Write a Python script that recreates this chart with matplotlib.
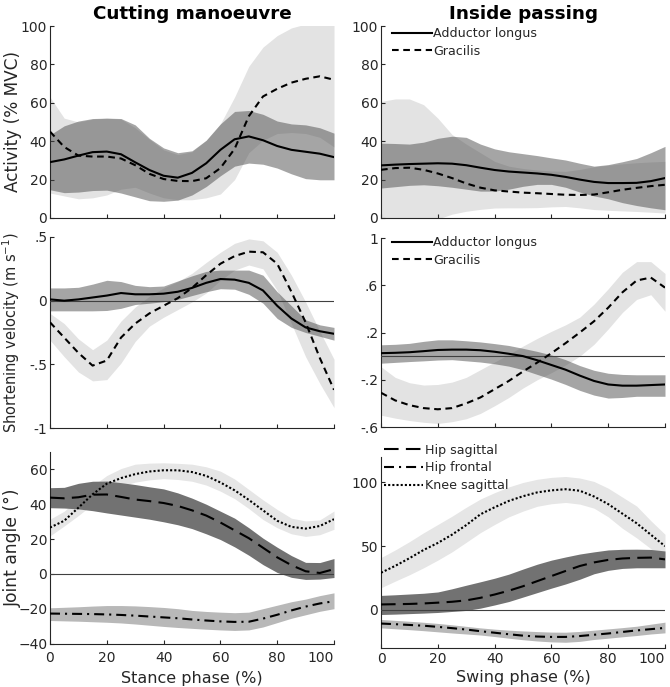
import numpy as np
import matplotlib
matplotlib.use("Agg")
import matplotlib.pyplot as plt

plt.rcParams['font.family'] = ['DejaVu Sans']
plt.rcParams['mathtext.fontset'] = 'dejavusans'

# ---------------- data ----------------
phase = [0, 5, 10, 15, 20, 25, 30, 35, 40, 45, 50, 55, 60, 65, 70, 75, 80, 85, 90, 95, 100]

# Cutting manoeuvre - activity (% MVC)
cut_act_al = [29.1, 30.5, 32.5, 34.3, 34.6, 33.2, 29, 25, 22, 21, 23.5, 28.5, 35.5, 41, 42.5, 40.5, 37.5, 35.5, 34.5, 33.5, 31.7]
cut_act_al_hi = [43.3, 48, 50.5, 51.8, 52, 51.8, 48.5, 41.5, 36.5, 34, 35, 40.5, 49, 55.5, 56, 54, 50.5, 49, 48.5, 47, 44.2]
cut_act_al_lo = [14.7, 13.2, 13.5, 14.3, 14.5, 13, 11, 9, 8.7, 9.3, 12, 16.4, 22, 27, 28.6, 28, 26, 23, 20.5, 19.9, 19.9]
cut_act_gr = [45, 37, 32.5, 32, 32, 31, 27.5, 23, 20.3, 19.3, 19.2, 20.7, 26, 36, 53, 63.3, 67.3, 70.5, 72.5, 73.8, 72]
cut_act_gr_hi = [63, 52, 50, 51.5, 52, 51.5, 47, 41, 35.5, 33, 34.5, 40.5, 49, 63, 79, 89, 95, 99, 101, 103, 104]
cut_act_gr_lo = [13, 11.5, 10, 10.5, 12, 15, 16, 13, 10.5, 9.5, 9.5, 10.5, 12.5, 20, 34, 40.5, 44, 44.5, 44, 42, 37]

# Inside passing - activity (% MVC)
pas_act_al = [27.4, 27.8, 28.1, 28.3, 28.5, 28.3, 27.5, 26.2, 25, 24.2, 23.7, 23.2, 22.5, 21.4, 20, 18.8, 18.2, 18.2, 18.3, 19.2, 20.8]
pas_act_al_hi = [39, 38.8, 38.5, 39.5, 41.5, 42.6, 42, 38.5, 36, 34.5, 33.5, 32.5, 31.3, 30.2, 28.5, 27, 27.8, 29.3, 31, 34, 37.3]
pas_act_al_lo = [15.6, 16.3, 17, 17.3, 16.8, 16, 15, 14, 14, 15, 16.5, 17.5, 17.5, 16, 13.5, 11.5, 10, 8, 6.5, 5.3, 4.3]
pas_act_gr = [25.1, 26, 26.2, 25.1, 23.2, 20.8, 18, 15.8, 14.4, 13.8, 13.2, 12.9, 12.5, 12.1, 12, 12.2, 13.4, 14.7, 15.7, 16.6, 17.3]
pas_act_gr_hi = [60.7, 62, 62, 59, 52, 43.5, 38.5, 34, 29.5, 27, 25.8, 25, 24.5, 24.3, 25.3, 26.7, 27.5, 28.2, 28.8, 29.2, 29.5]
pas_act_gr_lo = [-5, -5, -4, -3, -0.5, 2, 3.5, 4.5, 5.2, 5.3, 5.3, 5.4, 5.8, 6, 5.3, 4.4, 4, 3.7, 3.4, 3, 2.6]

# Cutting manoeuvre - shortening velocity (m/s)
cut_vel_al = [0.01, 0.0, 0.01, 0.025, 0.04, 0.06, 0.05, 0.05, 0.055, 0.07, 0.1, 0.14, 0.17, 0.165, 0.14, 0.08, -0.04, -0.14, -0.21, -0.24, -0.26]
cut_vel_al_hi = [0.1, 0.1, 0.105, 0.13, 0.16, 0.15, 0.12, 0.11, 0.115, 0.155, 0.195, 0.23, 0.24, 0.24, 0.24, 0.2, 0.07, -0.04, -0.15, -0.19, -0.21]
cut_vel_al_lo = [-0.08, -0.08, -0.08, -0.08, -0.077, -0.06, -0.03, -0.02, -0.008, 0.01, 0.04, 0.07, 0.094, 0.09, 0.05, -0.02, -0.14, -0.21, -0.25, -0.28, -0.31]
cut_vel_gr = [-0.17, -0.29, -0.41, -0.51, -0.47, -0.29, -0.18, -0.1, -0.04, 0.02, 0.1, 0.2, 0.29, 0.35, 0.385, 0.38, 0.29, 0.07, -0.17, -0.45, -0.7]
cut_vel_gr_hi = [-0.1, -0.18, -0.3, -0.385, -0.31, -0.16, -0.05, 0.035, 0.1, 0.15, 0.215, 0.3, 0.38, 0.45, 0.485, 0.47, 0.38, 0.2, -0.01, -0.24, -0.46]
cut_vel_gr_lo = [-0.31, -0.44, -0.56, -0.63, -0.62, -0.49, -0.32, -0.2, -0.13, -0.07, -0.01, 0.06, 0.16, 0.24, 0.28, 0.25, 0.08, -0.18, -0.44, -0.65, -0.84]

# Inside passing - shortening velocity (m/s)
pas_vel_al = [0.025, 0.028, 0.033, 0.042, 0.052, 0.055, 0.055, 0.05, 0.037, 0.02, 0.0, -0.035, -0.075, -0.115, -0.165, -0.21, -0.24, -0.25, -0.25, -0.245, -0.24]
pas_vel_al_hi = [0.096, 0.1, 0.108, 0.125, 0.138, 0.138, 0.13, 0.12, 0.106, 0.09, 0.066, 0.04, 0.01, -0.03, -0.08, -0.12, -0.145, -0.155, -0.158, -0.158, -0.158]
pas_vel_al_lo = [-0.06, -0.053, -0.046, -0.04, -0.033, -0.03, -0.04, -0.05, -0.065, -0.085, -0.115, -0.155, -0.195, -0.24, -0.29, -0.33, -0.355, -0.35, -0.34, -0.34, -0.34]
pas_vel_gr = [-0.31, -0.375, -0.415, -0.44, -0.45, -0.44, -0.4, -0.35, -0.28, -0.21, -0.13, -0.055, 0.025, 0.11, 0.2, 0.295, 0.41, 0.54, 0.64, 0.665, 0.58]
pas_vel_gr_hi = [-0.09, -0.18, -0.225, -0.245, -0.24, -0.22, -0.18, -0.115, -0.05, 0.015, 0.085, 0.15, 0.21, 0.265, 0.33, 0.44, 0.57, 0.71, 0.8, 0.8, 0.7]
pas_vel_gr_lo = [-0.5, -0.525, -0.545, -0.56, -0.57, -0.555, -0.53, -0.485, -0.42, -0.35, -0.27, -0.2, -0.14, -0.075, 0.0, 0.1, 0.23, 0.37, 0.48, 0.52, 0.38]

# Cutting manoeuvre - joint angles (deg)
cut_hs = [43.8, 43.4, 44, 45.5, 45.6, 44.2, 42.7, 41.8, 40.7, 39, 36.5, 33.5, 29.5, 25, 20.5, 15, 9.5, 5, 1.5, 0.5, 2.7]
cut_hs_hi = [49.5, 49.7, 52, 53.2, 53.3, 52.4, 51.3, 50, 48.8, 46.5, 43.5, 40, 36, 32, 26.5, 20.5, 15.3, 10.5, 6.6, 6.5, 8.8]
cut_hs_lo = [38, 37.8, 37.3, 36.3, 35, 33.8, 32.6, 31.4, 29.9, 28.2, 26, 23, 19.7, 15.5, 10.7, 5.3, 0.8, -2, -3.2, -3, -2.1]
cut_hf = [-22.8, -22.9, -23, -23.1, -23.3, -23.6, -24, -24.5, -25, -25.5, -26.2, -26.8, -27.3, -27.6, -27.5, -25.7, -23.5, -21, -18.8, -17, -15.7]
cut_hf_hi = [-19.5, -19.2, -18.9, -18.5, -18.2, -18.2, -18.4, -18.8, -19.3, -20, -21, -21.6, -22, -22.3, -22, -20, -18, -16, -14.5, -12.5, -10.9]
cut_hf_lo = [-26.8, -27, -27.2, -27.5, -27.8, -28.2, -28.8, -29.5, -30.2, -30.8, -31.3, -31.8, -32.2, -32.5, -32.2, -30.5, -28, -25.5, -23.5, -21.5, -20]
cut_ks = [26.6, 30.5, 38, 45.7, 51.8, 55, 57.3, 58.8, 59.5, 59.5, 58.5, 56.3, 52.5, 48, 42.5, 36.5, 30.5, 27, 26, 27.5, 31.4]
cut_ks_hi = [31.4, 36, 43, 50.5, 56.5, 60.5, 63, 63.6, 63.8, 63.5, 63, 61.5, 59, 54.5, 48.5, 42.5, 37, 32, 30.4, 31, 36.1]
cut_ks_lo = [21.8, 27.5, 33.5, 40, 46.6, 50.5, 52.7, 54, 54.7, 54.2, 53.2, 51, 47.5, 43.2, 37.5, 31.2, 26.5, 23, 21.5, 22.5, 25.6]

# Inside passing - joint angles (deg)
pas_hs = [4.2, 4.4, 4.6, 5, 5.6, 6.3, 7.4, 9.4, 12, 15, 18.5, 22.5, 26.5, 30.5, 34.4, 37.2, 39.2, 40.3, 40.8, 41, 39.6]
pas_hs_hi = [11.3, 11.8, 12.4, 13, 14, 16.5, 19.3, 22, 24.8, 28, 32, 35.8, 39, 41.5, 43.8, 45.5, 47, 47.5, 47.6, 47.4, 46.2]
pas_hs_lo = [-3.7, -3.4, -3, -2.6, -2.1, -1.3, -0.5, 1.3, 3.8, 6.5, 10, 13.5, 17, 20.3, 24, 28.3, 31, 32.5, 33, 33, 33]
pas_hf = [-10.8, -11.3, -11.9, -12.5, -13.4, -14.4, -15.5, -16.8, -18, -19.2, -20.3, -21, -21.3, -21.3, -20.6, -19.6, -18.6, -17.4, -16.2, -15.2, -14.2]
pas_hf_hi = [-7.6, -8.3, -9, -9.8, -10.7, -11.8, -13, -14.2, -15.2, -16, -16.6, -17.1, -17.5, -17.6, -17, -16, -15, -14, -12.9, -11.3, -9.7]
pas_hf_lo = [-14.2, -14.9, -15.6, -16.4, -17.3, -18.2, -19, -19.8, -21, -22.3, -23.5, -24.5, -25.2, -25.5, -24.8, -23.3, -22.3, -21.2, -20.2, -19, -18.1]
pas_ks = [29.1, 34.5, 40.5, 47, 52.5, 59, 66.5, 75, 80.5, 85.5, 89.2, 92.2, 93.8, 94.7, 93.5, 89, 83, 75.5, 68, 59, 50]
pas_ks_hi = [41, 47, 53.5, 60.5, 67, 73.5, 80.5, 87, 92, 96.5, 100, 102.5, 104, 104.7, 103.5, 100.8, 95.5, 88.5, 81.5, 70, 59.3]
pas_ks_lo = [17.3, 22.5, 27.5, 33, 39, 45.5, 53, 60.6, 67, 73, 77.5, 81.3, 83.3, 84.3, 83, 79.8, 73, 64, 56.5, 48, 39.6]

titles = ["Cutting manoeuvre", "Inside passing"]
ylabels = ["Activity (% MVC)", "Shortening velocity (m s$^{-1}$)", "Joint angle (°)"]
xlabels = ["Stance phase (%)", "Swing phase (%)"]
muscle_names = ["Adductor longus", "Gracilis"]
joint_names = ["Hip sagittal", "Hip frontal", "Knee sagittal"]
xticks = [0, 20, 40, 60, 80, 100]
act_ticks = [0, 20, 40, 60, 80, 100]
vel_ticks_cut = [-1, -0.5, 0, 0.5]
vel_ticklabels_cut = ["-1", "-.5", "0", ".5"]
vel_ticks_pas = [-0.6, -0.2, 0.2, 0.6, 1]
vel_ticklabels_pas = ["-.6", "-.2", ".2", ".6", "1"]
ang_ticks_cut = [-40, -20, 0, 20, 40, 60]
ang_ticks_pas = [0, 50, 100]

# ---------------- style ----------------
W, H = 670, 687
fig = plt.figure(figsize=(W / 100, H / 100), dpi=100)

def rect(x0, y0, x1, y1):
    return [x0 / W, 1 - y1 / H, (x1 - x0) / W, (y1 - y0) / H]

ax_act_c = fig.add_axes(rect(50, 26, 334, 218))
ax_act_p = fig.add_axes(rect(381, 26, 665, 218))
ax_vel_c = fig.add_axes(rect(50, 237, 334, 428))
ax_vel_p = fig.add_axes(rect(381, 238, 665, 427))
ax_ang_c = fig.add_axes(rect(50, 452, 334, 643.5))
ax_ang_p = fig.add_axes(rect(381, 457, 665, 648))

AX_COL = '#262626'
LIGHT = '#e3e3e3'
DARK = '#4d4d4d'
DARK_A = 0.5
LW = 1.5
DASH = (0, (3.2, 2.2))
LONGDASH = (0, (7, 3.5))
DASHDOT = (0, (4.8, 2.4, 1, 2.4))
DOT = (0, (1, 1))

def style(ax, xlabels_on, xpad=2):
    for s in ['top', 'right']:
        ax.spines[s].set_visible(False)
    for s in ['left', 'bottom']:
        ax.spines[s].set_color(AX_COL)
        ax.spines[s].set_linewidth(0.8)
    ax.set_xlim(0, 100)
    ax.set_xticks(xticks)
    ax.tick_params(direction='in', length=3, width=0.8, color=AX_COL,
                   labelcolor=AX_COL, labelsize=10, pad=2)
    ax.tick_params(axis='x', pad=xpad)
    if not xlabels_on:
        ax.set_xticklabels([])
    else:
        ax.set_xticklabels([str(t) for t in xticks])
        ax.get_xticklabels()[-1].set_horizontalalignment('right')

def muscle_panel(ax, al, al_hi, al_lo, gr, gr_hi, gr_lo):
    ax.fill_between(phase, gr_lo, gr_hi, color=LIGHT, lw=0, zorder=1)
    ax.fill_between(phase, al_lo, al_hi, color=DARK, alpha=DARK_A, lw=0, zorder=2)
    l1, = ax.plot(phase, al, color='black', lw=LW, zorder=4, label=muscle_names[0])
    l2, = ax.plot(phase, gr, color='black', lw=LW, linestyle=DASH, zorder=4, label=muscle_names[1])
    return [l1, l2]

leg_kw = dict(frameon=False, fontsize=9.1, handlelength=3.1, handletextpad=0.15,
              labelspacing=0.38, borderpad=0, borderaxespad=0, labelcolor=AX_COL)

# Row 1: activity
muscle_panel(ax_act_c, cut_act_al, cut_act_al_hi, cut_act_al_lo, cut_act_gr, cut_act_gr_hi, cut_act_gr_lo)
h = muscle_panel(ax_act_p, pas_act_al, pas_act_al_hi, pas_act_al_lo, pas_act_gr, pas_act_gr_hi, pas_act_gr_lo)
for ax in (ax_act_c, ax_act_p):
    style(ax, False)
    ax.set_ylim(0, 100)
    ax.set_yticks(act_ticks)
ax_act_p.legend(handles=h, loc='upper left', bbox_to_anchor=(0.04, 0.995), **leg_kw)
ax_act_c.set_title(titles[0], fontsize=13.2, fontweight='bold', pad=5)
ax_act_p.set_title(titles[1], fontsize=13.2, fontweight='bold', pad=5)

# Row 2: velocity
muscle_panel(ax_vel_c, cut_vel_al, cut_vel_al_hi, cut_vel_al_lo, cut_vel_gr, cut_vel_gr_hi, cut_vel_gr_lo)
h = muscle_panel(ax_vel_p, pas_vel_al, pas_vel_al_hi, pas_vel_al_lo, pas_vel_gr, pas_vel_gr_hi, pas_vel_gr_lo)
for ax in (ax_vel_c, ax_vel_p):
    style(ax, False)
    ax.axhline(0, color='#404040', lw=0.8, zorder=3)
ax_vel_c.set_ylim(-1, 0.5)
ax_vel_c.set_yticks(vel_ticks_cut)
ax_vel_c.set_yticklabels(vel_ticklabels_cut)
ax_vel_p.set_ylim(-0.6, 1)
ax_vel_p.set_yticks(vel_ticks_pas)
ax_vel_p.set_yticklabels(vel_ticklabels_pas)
ax_vel_p.legend(handles=h, loc='upper left', bbox_to_anchor=(0.04, 1.01), **leg_kw)

# Row 3: joint angles
def joint_panel(ax, hs, hs_hi, hs_lo, hf, hf_hi, hf_lo, ks, ks_hi, ks_lo):
    ax.fill_between(phase, ks_lo, ks_hi, color='#e6e6e6', lw=0, zorder=1)
    ax.fill_between(phase, hs_lo, hs_hi, color='#727272', lw=0, zorder=2)
    ax.fill_between(phase, hf_lo, hf_hi, color='#b8b8b8', lw=0, zorder=2)
    ax.axhline(0, color='#404040', lw=0.8, zorder=3)
    l1, = ax.plot(phase, hs, color='black', lw=LW, linestyle=LONGDASH, zorder=4, label=joint_names[0])
    l2, = ax.plot(phase, hf, color='black', lw=LW, linestyle=DASHDOT, zorder=4, label=joint_names[1])
    l3, = ax.plot(phase, ks, color='black', lw=LW, linestyle=DOT, zorder=4, label=joint_names[2])
    return [l1, l2, l3]

joint_panel(ax_ang_c, cut_hs, cut_hs_hi, cut_hs_lo, cut_hf, cut_hf_hi, cut_hf_lo, cut_ks, cut_ks_hi, cut_ks_lo)
h = joint_panel(ax_ang_p, pas_hs, pas_hs_hi, pas_hs_lo, pas_hf, pas_hf_hi, pas_hf_lo, pas_ks, pas_ks_hi, pas_ks_lo)
style(ax_ang_c, True, xpad=5.5)
style(ax_ang_p, True, xpad=3)
ax_ang_c.set_ylim(-40, 70)
ax_ang_c.set_yticks(ang_ticks_cut)
ax_ang_p.set_ylim(-30, 120)
ax_ang_p.set_yticks(ang_ticks_pas)
ax_ang_p.legend(handles=h, loc='upper left', bbox_to_anchor=(0.01, 1.07), **leg_kw)

ax_ang_c.set_xlabel(xlabels[0], fontsize=11.5, color=AX_COL, labelpad=4)
ax_ang_p.set_xlabel(xlabels[1], fontsize=11.5, color=AX_COL, labelpad=3)

for ax, lab, fs in zip((ax_act_c, ax_vel_c, ax_ang_c), ylabels, (12.2, 10.5, 12.3)):
    ax.set_ylabel(lab, fontsize=fs, color=AX_COL)
    ax.yaxis.set_label_coords(-0.098, 0.5)

fig.savefig('out.png', dpi=100)
